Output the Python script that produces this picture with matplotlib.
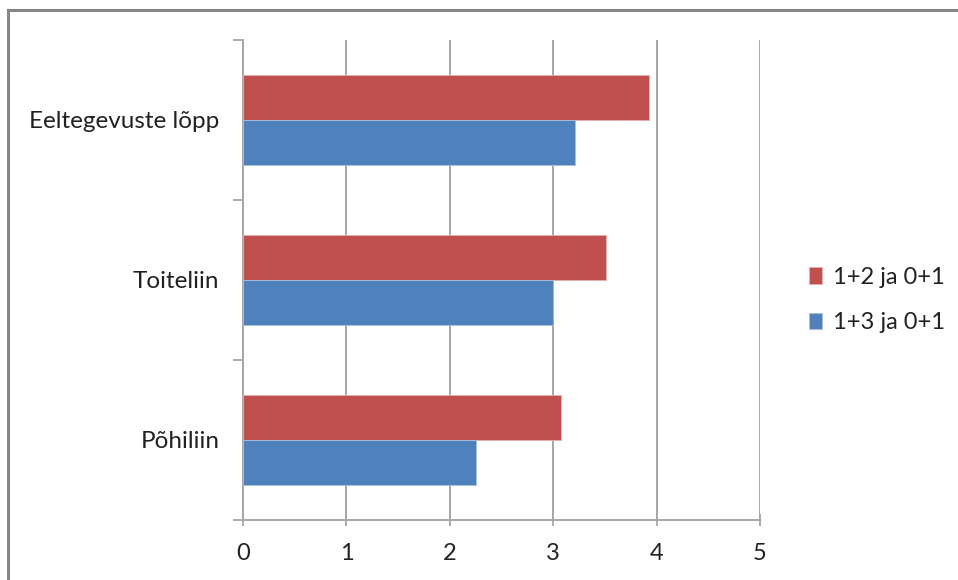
import matplotlib
matplotlib.use("Agg")
import matplotlib.pyplot as plt
from matplotlib.lines import Line2D
import numpy as np

categories = ["Põhiliin", "Toiteliin", "Eeltegevuste lõpp"]
series_names = ["1+2 ja 0+1", "1+3 ja 0+1"]
values_12 = [3.08, 3.51, 3.93]
values_13 = [2.25, 3.00, 3.21]
x_ticks = [0, 1, 2, 3, 4, 5]

RED = "#C0504D"
BLUE = "#4F81BD"
GRID = "#A6A6A6"
FONT = "Lato"
TXT = "#222222"

W, H = 958, 580
fig = plt.figure(figsize=(W / 100, H / 100), dpi=100)
fig.patch.set_facecolor("white")

# outer chart border (top and left edges)
fig.add_artist(Line2D([8 / W, 1.0], [1 - 10 / H, 1 - 10 / H], color="#868686", lw=2.2,
                      transform=fig.transFigure))
fig.add_artist(Line2D([8 / W, 8 / W], [0, 1 - 10 / H], color="#868686", lw=2.2,
                      transform=fig.transFigure))

x0, x1, ytop, ybot = 243, 760, 40, 520
ax = fig.add_axes([x0 / W, (H - ybot) / H, (x1 - x0) / W, (ybot - ytop) / H])

y = np.arange(len(categories))
h = 0.28
ax.barh(y + h / 2, values_12, height=h, color=RED, edgecolor="#E8B0AE", linewidth=0.6,
        label=series_names[0], zorder=3)
ax.barh(y - h / 2, values_13, height=h, color=BLUE, edgecolor="#A9C0DE", linewidth=0.6,
        label=series_names[1], zorder=3)

ax.set_xlim(0, 5)
ax.set_ylim(-0.5, len(categories) - 0.5)
ax.set_xticks(x_ticks)
ax.set_xticklabels([str(t) for t in x_ticks], fontsize=17, family=FONT, color=TXT)

# category labels centered on each group, ticks at group boundaries
ax.set_yticks(y)
ax.set_yticklabels(categories, fontsize=17.5, family=FONT, color=TXT)
ax.tick_params(axis="y", length=0, pad=17)
ax.set_yticks(np.arange(-0.5, len(categories), 1.0), minor=True)
ax.tick_params(axis="y", which="minor", length=7, width=1.3, color=GRID, direction="out")
ax.tick_params(axis="x", length=9, width=1.3, color=GRID, direction="inout", pad=12)

for xv in x_ticks[1:]:
    ax.axvline(xv, color=GRID, lw=1.4, zorder=1)

for s in ["top", "right"]:
    ax.spines[s].set_visible(False)
for s in ["left", "bottom"]:
    ax.spines[s].set_color(GRID)
    ax.spines[s].set_linewidth(1.4)

leg_x = (809 - x0) / (x1 - x0)
leg = ax.legend(loc="center left", bbox_to_anchor=(leg_x, (ybot - 300) / (ybot - ytop)),
                frameon=False, borderaxespad=0, borderpad=0,
                prop={"family": FONT, "size": 17}, handlelength=0.55, handleheight=0.7,
                handletextpad=0.45, labelspacing=1.05)
for t in leg.get_texts():
    t.set_color(TXT)

fig.savefig("out.png", dpi=100, facecolor="white")
